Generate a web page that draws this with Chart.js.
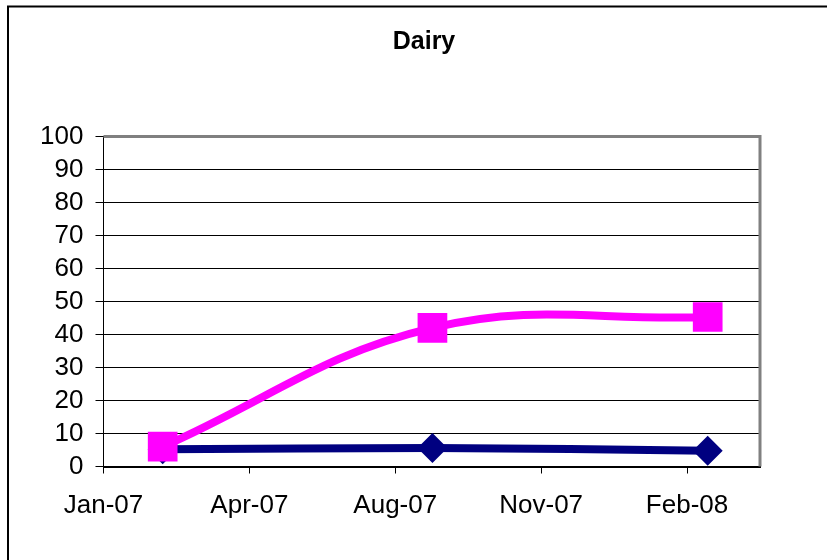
<!DOCTYPE html>
<html>
<head>
<meta charset="utf-8">
<title>Dairy</title>
<script src="https://cdn.jsdelivr.net/npm/chart.js@4"></script>
<style>
  html, body { margin: 0; padding: 0; background: #fff; }
</style>
</head>
<body>
<canvas id="dairyChart" width="827" height="560"></canvas>
<script>
// Excel-style date axis: one major unit = 106 days counted from 1 Jan 2007
const tickLabels = ["Jan-07", "Apr-07", "Aug-07", "Nov-07", "Feb-08"];
const tickStepDays = 106;
const axisEndDays = 477;

// sample dates and values
const pointDates = ["2007-02-13", "2007-08-28", "2008-03-15"];
const pinkValues = [6, 42, 45.3];
const navyValues = [5.2, 5.6, 4.8];

const FONT = "'Liberation Sans', Arial, sans-serif";
const axisStart = Date.parse("2007-01-01");

function toDays(d) {
  return (Date.parse(d) - axisStart) / 86400000;
}

function toPoints(values) {
  return values.map((v, i) => ({ x: toDays(pointDates[i]), y: v }));
}

// white background, outer chart border and grey plot frame
const framePlugin = {
  id: "frame",
  beforeDraw(chart) {
    let ctx = chart.ctx;
    ctx.save();
    ctx.fillStyle = "#fff";
    ctx.fillRect(0, 0, chart.width, chart.height);
    ctx.strokeStyle = "#000";
    ctx.lineWidth = 2;
    ctx.strokeRect(8, 6.5, chart.width + 20, chart.height + 20);
    ctx.restore();
  },
  beforeDatasetsDraw(chart) {
    let ctx = chart.ctx;
    let a = chart.chartArea;
    ctx.save();
    ctx.strokeStyle = "#808080";
    ctx.lineWidth = 3;
    ctx.beginPath();
    ctx.moveTo(a.left, a.top);
    ctx.lineTo(a.right, a.top);
    ctx.lineTo(a.right, a.bottom);
    ctx.stroke();
    ctx.restore();
  },
};

let ctx = document.getElementById("dairyChart").getContext("2d");
new Chart(ctx, {
  type: "line",
  data: {
    datasets: [
      {
        label: "Series 2",
        data: toPoints(pinkValues),
        borderColor: "#ff00ff",
        backgroundColor: "#ff00ff",
        borderWidth: 8,
        tension: 0.4,
        pointStyle: "rect",
        pointRadius: 21,
        pointBorderWidth: 0,
        fill: false,
      },
      {
        label: "Series 1",
        data: toPoints(navyValues),
        borderColor: "#000080",
        backgroundColor: "#000080",
        borderWidth: 8,
        tension: 0.4,
        pointStyle: "rectRot",
        pointRadius: 15,
        pointBorderWidth: 0,
        fill: false,
      },
    ],
  },
  options: {
    responsive: false,
    animation: false,
    devicePixelRatio: 1,
    layout: { padding: { top: 0, right: 0, bottom: 0, left: 21 } },
    plugins: {
      legend: { display: false },
      tooltip: { enabled: false },
      title: {
        display: true,
        text: "Dairy",
        color: "#000",
        font: { family: FONT, size: 25, weight: "bold" },
        padding: { top: 27, bottom: 79.5 },
      },
    },
    scales: {
      x: {
        type: "linear",
        min: 0,
        max: axisEndDays,
        afterBuildTicks: (scale) => {
          scale.ticks = tickLabels.map((l, i) => ({ value: i * tickStepDays }));
        },
        afterFit: (scale) => {
          scale.height = 93.5;
        },
        ticks: {
          callback: (value, index) => tickLabels[index],
          color: "#000",
          font: { family: FONT, size: 26 },
          padding: 17,
          maxRotation: 0,
          autoSkip: false,
        },
        grid: { drawOnChartArea: false, tickLength: 7, color: "#000" },
        border: { color: "#000", width: 2 },
      },
      y: {
        min: 0,
        max: 100,
        afterFit: (scale) => {
          scale.width = 82.5;
        },
        ticks: {
          stepSize: 10,
          autoSkip: false,
          color: "#000",
          font: { family: FONT, size: 26 },
          padding: 12,
        },
        grid: { color: "#000", tickLength: 8 },
        border: { color: "#000", width: 1 },
      },
      // empty right-hand box that leaves the blank strip beside the plot
      spacer: {
        type: "linear",
        position: "right",
        display: true,
        afterFit: (scale) => {
          scale.width = 67;
        },
        ticks: { display: false },
        grid: { display: false },
        border: { display: false },
      },
    },
  },
  plugins: [framePlugin],
});
</script>
</body>
</html>
